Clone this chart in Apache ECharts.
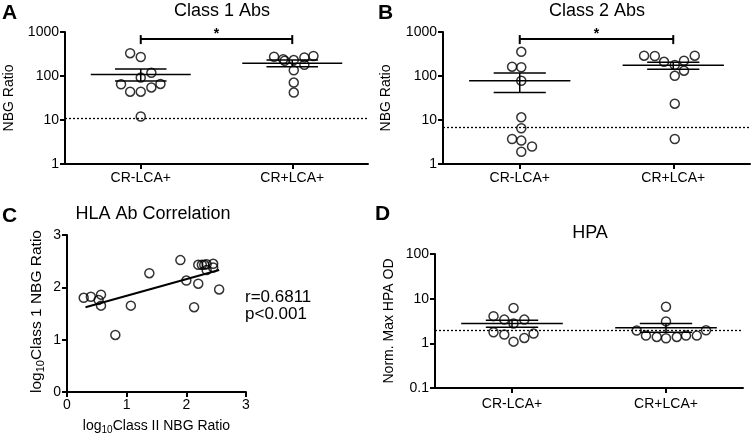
<!DOCTYPE html>
<html>
<head>
<meta charset="utf-8">
<script src="https://cdn.jsdelivr.net/npm/echarts@6/dist/echarts.min.js"></script>
<style>
  html, body { margin: 0; padding: 0; background: #fff; }
  #cn1 { width: 753px; height: 437px; }
</style>
</head>
<body>
<div id="cn1"></div>
<script>
'use strict';

const arrCategory = ['CR-LCA+', 'CR+LCA+'];

// A : Class 1 Abs (x = position in category units, 0.5 / 1.5 are the column centres)
const arrA1X = [0.43, 0.50, 0.57, 0.50, 0.37, 0.63, 0.57, 0.43, 0.50, 0.50];
const arrA1Y = [330, 270, 118, 92, 65, 66, 55, 44, 44, 12];
const arrA2X = [1.38, 1.44, 1.45, 1.51, 1.58, 1.64, 1.58, 1.51, 1.51, 1.51];
const arrA2Y = [275, 240, 222, 230, 265, 285, 180, 135, 71, 42];
const arrAMean = [108, 195];
const arrASemLo = [77, 162];
const arrASemHi = [145, 230];
const cutoffA = 11;
const bracketA = 690;

// B : Class 2 Abs
const arrB1X = [0.51, 0.45, 0.51, 0.51, 0.51, 0.51, 0.45, 0.51, 0.58, 0.51];
const arrB1Y = [355, 163, 158, 78, 11.5, 6.5, 3.7, 3.4, 2.5, 1.9];
const arrB2X = [1.31, 1.38, 1.44, 1.51, 1.57, 1.64, 1.57, 1.51, 1.51, 1.51];
const arrB2Y = [289, 285, 210, 178, 222, 289, 132, 101, 23.5, 3.7];
const arrBMean = [78, 175];
const arrBSemLo = [42, 142];
const arrBSemHi = [117, 205];
const cutoffB = 6.9;
const bracketB = 690;

// C : HLA Ab Correlation
const arrCX = [0.28, 0.40, 0.53, 0.57, 0.57, 0.81, 1.07, 1.38, 1.90, 2.00, 2.13, 2.20, 2.20, 2.26, 2.34, 2.34, 2.45, 2.45, 2.55, 2.30];
const arrCY = [1.80, 1.82, 1.76, 1.86, 1.65, 1.09, 1.65, 2.27, 2.52, 2.13, 1.62, 2.07, 2.43, 2.43, 2.44, 2.33, 2.45, 2.38, 1.96, 2.43];
const arrFitX = [0.31, 2.55];
const arrFitY = [1.62, 2.33];

// D : HPA
const arrD1X = [0.38, 0.45, 0.51, 0.58, 0.51, 0.38, 0.45, 0.51, 0.58, 0.64];
const arrD1Y = [4.06, 3.4, 6.2, 3.4, 2.78, 1.77, 1.57, 1.09, 1.32, 1.65];
const arrD2X = [1.50, 1.50, 1.31, 1.37, 1.44, 1.50, 1.57, 1.63, 1.70, 1.76];
const arrD2Y = [6.6, 3.1, 1.93, 1.49, 1.39, 1.30, 1.39, 1.49, 1.49, 1.96];
const arrDMean = [2.78, 2.22];
const arrDSemLo = [2.29, 1.77];
const arrDSemHi = [3.3, 2.78];
const cutoffD = 2.0;

const FONT = 'Liberation Sans, Arial, sans-serif';
const MEAN_HALF = 0.33;
const SEM_HALF = 0.17;

const zip = (arrX, arrY) => arrX.map((x, i) => [x, arrY[i]]);
const meanData = (arrMean, arrLo, arrHi) => arrMean.map((m, i) => [i + 0.5, m, arrLo[i], arrHi[i]]);

const axisLineStyle = { show: true, onZero: false, lineStyle: { color: '#000', width: 2 } };
const axisTickStyle = { show: true, length: 5, lineStyle: { color: '#000', width: 2 } };
const labelStyle = { color: '#000', fontSize: 14, fontFamily: FONT };
const logLabel = v => String(+(+v).toPrecision(6));

function catAxis(grid, margin) {
    return {
        type: 'category', gridIndex: grid, data: arrCategory, boundaryGap: true,
        axisLine: axisLineStyle,
        axisTick: Object.assign({ alignWithLabel: true }, axisTickStyle),
        axisLabel: Object.assign({ margin: margin }, labelStyle),
        splitLine: { show: false }
    };
}
function posAxis(grid) {
    return { type: 'value', gridIndex: grid, min: 0, max: 2, show: false };
}
function logAxis(grid, min, max, name, gap) {
    return {
        type: 'log', logBase: 10, gridIndex: grid, min: min, max: max,
        name: name, nameLocation: 'middle', nameGap: gap,
        nameTextStyle: { color: '#000', fontSize: 14, fontFamily: FONT },
        axisLine: axisLineStyle, axisTick: axisTickStyle,
        axisLabel: Object.assign({ margin: 6, formatter: logLabel }, labelStyle),
        splitLine: { show: false }, minorTick: { show: false }
    };
}

const circleStyle = { color: 'rgba(0,0,0,0)', borderColor: '#000', borderWidth: 1.5 };

function scatter(xIdx, yIdx, data, cutoff) {
    const s = {
        type: 'scatter', xAxisIndex: xIdx, yAxisIndex: yIdx, data: data,
        symbol: 'circle', symbolSize: 9, itemStyle: circleStyle, z: 3, silent: true
    };
    if (cutoff !== undefined) {
        s.markLine = {
            silent: true, symbol: 'none', label: { show: false },
            lineStyle: { color: '#000', type: [2, 2], width: 1.3 },
            data: [{ yAxis: cutoff }]
        };
    }
    return s;
}

function renderMean(params, api) {
    const c = api.value(0);
    const m = api.coord([c, api.value(1)]);
    const lo = api.coord([c, api.value(2)]);
    const hi = api.coord([c, api.value(3)]);
    const l = api.coord([c - MEAN_HALF, api.value(1)])[0];
    const r = api.coord([c + MEAN_HALF, api.value(1)])[0];
    const sl = api.coord([c - SEM_HALF, api.value(1)])[0];
    const sr = api.coord([c + SEM_HALF, api.value(1)])[0];
    const style = { stroke: '#000', lineWidth: 1.5 };
    return {
        type: 'group', children: [
            { type: 'line', shape: { x1: l, y1: m[1], x2: r, y2: m[1] }, style: style },
            { type: 'line', shape: { x1: sl, y1: hi[1], x2: sr, y2: hi[1] }, style: style },
            { type: 'line', shape: { x1: sl, y1: lo[1], x2: sr, y2: lo[1] }, style: style },
            { type: 'line', shape: { x1: m[0], y1: hi[1], x2: m[0], y2: lo[1] }, style: style }
        ]
    };
}

function renderBracket(params, api) {
    const p1 = api.coord([api.value(0), api.value(2)]);
    const p2 = api.coord([api.value(1), api.value(2)]);
    const style = { stroke: '#000', lineWidth: 2 };
    return {
        type: 'group', children: [
            { type: 'line', shape: { x1: p1[0], y1: p1[1], x2: p2[0], y2: p2[1] }, style: style },
            { type: 'line', shape: { x1: p1[0], y1: p1[1] - 4, x2: p1[0], y2: p1[1] + 5 }, style: style },
            { type: 'line', shape: { x1: p2[0], y1: p2[1] - 4, x2: p2[0], y2: p2[1] + 5 }, style: style },
            {
                type: 'text', x: (p1[0] + p2[0]) / 2, y: p1[1] + 2,
                style: { text: '*', fill: '#000', font: 'bold 14px ' + FONT, align: 'center', verticalAlign: 'bottom' }
            }
        ]
    };
}

function meanSeries(xIdx, yIdx, data) {
    return {
        type: 'custom', xAxisIndex: xIdx, yAxisIndex: yIdx, renderItem: renderMean,
        encode: { x: 0, y: [1, 2, 3] }, data: data, z: 4, silent: true
    };
}
function bracketSeries(xIdx, yIdx, yVal) {
    return {
        type: 'custom', xAxisIndex: xIdx, yAxisIndex: yIdx, renderItem: renderBracket,
        encode: { x: [0, 1], y: 2 }, data: [[0.5, 1.5, yVal]], z: 4, silent: true, clip: false
    };
}

function titleAt(text, x, y, size, weight) {
    return {
        text: text, left: x, top: y, padding: 0, textAlign: weight ? 'left' : 'center',
        textStyle: { color: '#000', fontSize: size, fontWeight: weight || 'normal', fontFamily: FONT }
    };
}

function subName(size, subSize, pad) {
    return {
        n: { fontSize: size, fontFamily: FONT, color: '#000' },
        sub: { fontSize: subSize, fontFamily: FONT, color: '#000', padding: [pad, 0, 0, 0] }
    };
}

const option = {
    animation: false,
    backgroundColor: '#fff',
    title: [
        titleAt('A', 2, 3, 21, 'bold'),
        titleAt('B', 378, 3, 21, 'bold'),
        titleAt('C', 2, 206, 21, 'bold'),
        titleAt('D', 375, 204, 21, 'bold'),
        titleAt('Class 1 Abs', 222, 2, 18),
        titleAt('Class 2 Abs', 597, 2, 18),
        titleAt('HLA Ab Correlation', 153, 205, 18),
        titleAt('HPA', 590, 224, 18)
    ],
    grid: [
        { left: 65, top: 32, width: 303, height: 132 },
        { left: 443, top: 32, width: 307, height: 132 },
        { left: 67, top: 235, width: 179, height: 157 },
        { left: 435, top: 254, width: 308, height: 134 }
    ],
    xAxis: [
        catAxis(0, 7), posAxis(0),
        catAxis(1, 7), posAxis(1),
        {
            type: 'value', gridIndex: 2, min: 0, max: 3, interval: 1,
            name: '{n|log}{sub|10}{n|Class II NBG Ratio}', nameLocation: 'middle', nameGap: 26,
            nameTextStyle: { rich: subName(14, 10, 7) },
            axisLine: axisLineStyle, axisTick: axisTickStyle,
            axisLabel: Object.assign({ margin: 6 }, labelStyle), splitLine: { show: false }
        },
        catAxis(3, 9), posAxis(3)
    ],
    yAxis: [
        logAxis(0, 1, 1000, 'NBG Ratio', 49),
        logAxis(1, 1, 1000, 'NBG Ratio', 50),
        {
            type: 'value', gridIndex: 2, min: 0, max: 3, interval: 1,
            name: '{n|log}{sub|10}{n|Class 1 NBG Ratio}', nameLocation: 'middle', nameGap: 21,
            nameTextStyle: { rich: subName(15.5, 11, 8), padding: [0, 0, 0, 4] },
            axisLine: axisLineStyle, axisTick: axisTickStyle,
            axisLabel: Object.assign({ margin: 6 }, labelStyle), splitLine: { show: false }
        },
        logAxis(3, 0.1, 100, 'Norm. Max HPA OD', 39)
    ],
    graphic: [
        { type: 'text', left: 245, top: 289, style: { text: 'r=0.6811', fill: '#000', font: '17px ' + FONT } },
        { type: 'text', left: 245, top: 306, style: { text: 'p<0.001', fill: '#000', font: '17px ' + FONT } }
    ],
    series: [
        scatter(1, 0, zip(arrA1X, arrA1Y), cutoffA),
        scatter(1, 0, zip(arrA2X, arrA2Y)),
        meanSeries(1, 0, meanData(arrAMean, arrASemLo, arrASemHi)),
        bracketSeries(1, 0, bracketA),

        scatter(3, 1, zip(arrB1X, arrB1Y), cutoffB),
        scatter(3, 1, zip(arrB2X, arrB2Y)),
        meanSeries(3, 1, meanData(arrBMean, arrBSemLo, arrBSemHi)),
        bracketSeries(3, 1, bracketB),

        scatter(4, 2, zip(arrCX, arrCY)),
        {
            type: 'line', xAxisIndex: 4, yAxisIndex: 2, data: zip(arrFitX, arrFitY),
            symbol: 'none', lineStyle: { color: '#000', width: 2 }, silent: true
        },

        scatter(6, 3, zip(arrD1X, arrD1Y), cutoffD),
        scatter(6, 3, zip(arrD2X, arrD2Y)),
        meanSeries(6, 3, meanData(arrDMean, arrDSemLo, arrDSemHi))
    ]
};

const chart = echarts.init(document.getElementById('cn1'), null, { renderer: 'canvas' });
chart.setOption(option);
</script>
</body>
</html>
